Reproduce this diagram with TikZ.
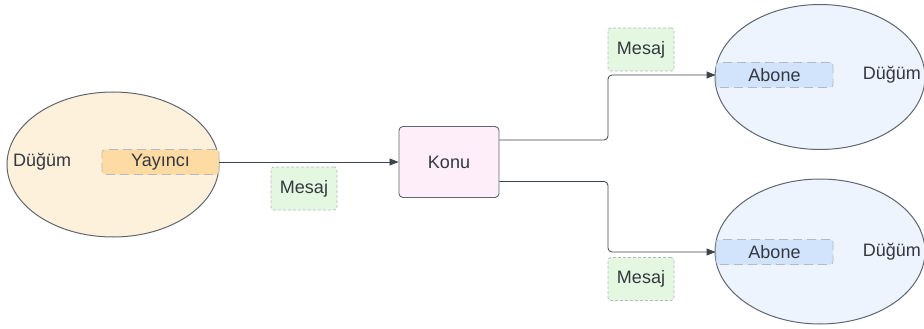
\documentclass[tikz,border=0pt]{standalone}
\usepackage{fontspec}
\setmainfont{Liberation Sans}
\usetikzlibrary{positioning,shapes.geometric,arrows.meta}

\definecolor{pubfill}{HTML}{FEF1DB}
\definecolor{pubbox}{HTML}{FDDBA2}
\definecolor{subfill}{HTML}{EDF4FE}
\definecolor{subbox}{HTML}{D1E4FC}
\definecolor{konufill}{HTML}{FDEEFA}
\definecolor{msgfill}{HTML}{E4F7E1}
\definecolor{edgegray}{HTML}{5F6670}
\definecolor{linegray}{HTML}{3D434C}
\definecolor{dashgray}{HTML}{B5BAC2}
\definecolor{textgray}{HTML}{333840}

\begin{document}
\begin{tikzpicture}[x=1pt,y=-1pt,
    font=\fontsize{18}{21}\selectfont, text=textgray,
    dugum/.style={ellipse, draw=edgegray, line width=1pt, inner sep=0pt,
        minimum width=210pt, minimum height=145pt},
    rolebox/.style={draw=dashgray, line width=0.8pt, dash pattern=on 9pt off 5pt,
        rounded corners=3pt, inner sep=0pt, minimum width=117pt, minimum height=25pt},
    msgbox/.style={fill=msgfill, draw=dashgray, line width=0.7pt, dash pattern=on 3pt off 2pt,
        rounded corners=3pt, minimum width=66pt, minimum height=43pt},
    conn/.style={draw=linegray, line width=0.8pt, rounded corners=4pt,
        -{Triangle[length=9pt,width=7pt]}}]

    \useasboundingbox (0,0) rectangle (924,329);

    % publisher side
    \node[dugum, fill=pubfill, minimum width=212pt] (pub) at (113,164.5) {};
    \node[rolebox, fill=pubbox] (yayinci) at (160.5,162) {Yayıncı};
    \node[left=27pt of yayinci] (pubtext) {Düğüm};

    % topic
    \node[draw=edgegray, fill=konufill, line width=0.9pt, rounded corners=4pt,
        minimum width=100pt, minimum height=71pt] (konu) at (449,162) {Konu};

    % subscribers
    \node[dugum, fill=subfill] (subA) at (820,77) {};
    \node[rolebox, fill=subbox] (aboneA) at (774.5,75) {Abone};
    \node[right=26pt of aboneA] (subAtext) {Düğüm};

    \node[dugum, fill=subfill] (subB) at (820,251.5) {};
    \node[rolebox, fill=subbox] (aboneB) at (774.5,252) {Abone};
    \node[right=26pt of aboneB] (subBtext) {Düğüm};

    % messages
    \node[msgbox] (msg1) at (304,188.5) {Mesaj};
    \node[msgbox] (msg2) at (641,49.5) {Mesaj};
    \node[msgbox] (msg3) at (641,279) {Mesaj};

    \coordinate (fork) at (608,162);

    \draw[conn] (yayinci.east) -- (konu.west);
    \draw[conn] ([yshift=22pt]konu.east) -| (fork |- aboneA.west) -- (aboneA.west);
    \draw[conn] ([yshift=-19.5pt]konu.east) -| (fork |- aboneB.west) -- (aboneB.west);
\end{tikzpicture}
\end{document}
